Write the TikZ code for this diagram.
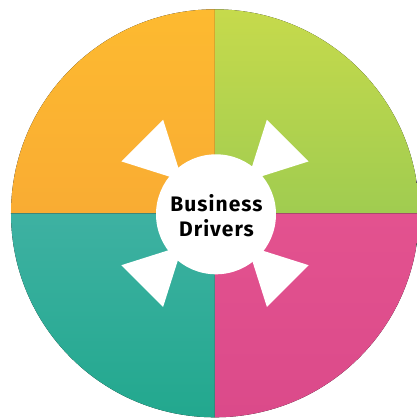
\documentclass[tikz,border=0pt]{standalone}
\usepackage{fontspec}
\setmainfont{Fira Sans}
\newfontfamily\hubfont[LetterSpace=5]{Fira Sans}
\definecolor{orangeTop}{HTML}{FDBA30}
\definecolor{orangeBot}{HTML}{F9AC33}
\definecolor{greenTop}{HTML}{C6DA4C}
\definecolor{greenBot}{HTML}{A0CC50}
\definecolor{tealTop}{HTML}{3EB1A2}
\definecolor{tealBot}{HTML}{22A88E}
\definecolor{pinkTop}{HTML}{E3528F}
\definecolor{pinkBot}{HTML}{DB4A8A}
\begin{document}
\begin{tikzpicture}[x=1pt,y=1pt]
    \useasboundingbox (-215,-204.7) rectangle (202,213.3);

    % four quarters
    \fill[top color=orangeTop, bottom color=orangeBot] (0,0) -- (90:204) arc (90:180:204) -- cycle;
    \fill[top color=greenTop, bottom color=greenBot] (0,0) -- (0:204) arc (0:90:204) -- cycle;
    \fill[top color=tealTop, bottom color=tealBot] (0,0) -- (180:204) arc (180:270:204) -- cycle;
    \fill[top color=pinkTop, bottom color=pinkBot] (0,0) -- (270:204) arc (270:360:204) -- cycle;

    % hub and wedges
    \fill[white] (1,-1) circle (60);
    \foreach \a in {45,135,225,315}
        \fill[white] (\a:46) -- (\a+16:107) -- (\a-16:107) -- cycle;

    \node[font=\hubfont\bfseries\fontsize{21}{25.6}\selectfont, align=center] (drivers) at (1.5,-2.5) {Business\\Drivers};
\end{tikzpicture}
\end{document}
